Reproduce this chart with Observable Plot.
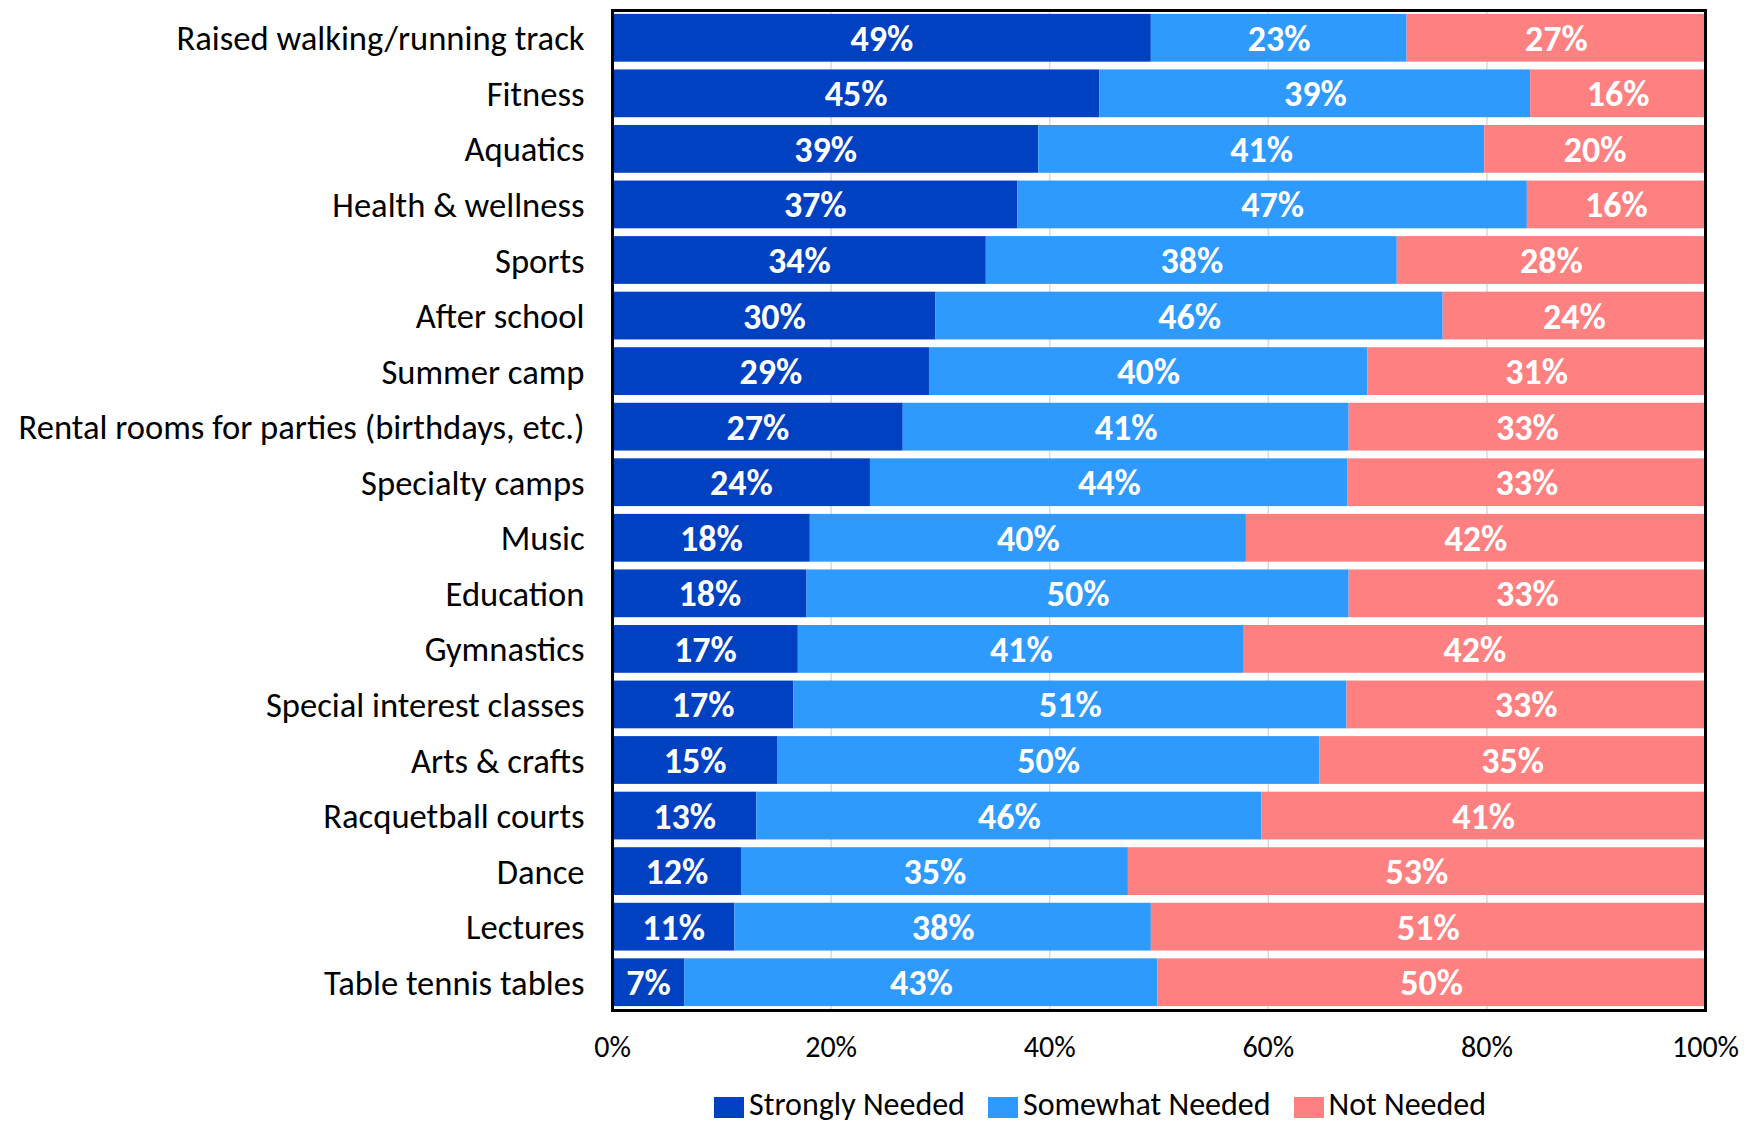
<!DOCTYPE html>
<html>
<head>
<meta charset="utf-8">
<script src="https://cdn.jsdelivr.net/npm/d3@7"></script>
<script src="https://cdn.jsdelivr.net/npm/@observablehq/plot@0.6"></script>
<style>
  html, body { margin: 0; padding: 0; background: #fff; }
  #wrap { position: relative; width: 1760px; height: 1123px; overflow: hidden; font-family: Calibri, Carlito, Lato, sans-serif; }
  #legend { position: absolute; left: 714px; top: 1087px; display: flex; align-items: center; font-size: 32px; line-height: 36px; color: #000; white-space: nowrap; }
  #legend .item { display: flex; align-items: center; margin-right: 23px; }
  #legend .sw { width: 30px; height: 21px; margin-right: 5px; margin-top: 4px; }
</style>
</head>
<body>
<div id="wrap"><div id="chart"></div><div id="legend"></div></div>
<script>
const categories = [
  "Raised walking/running track", "Fitness", "Aquatics", "Health & wellness", "Sports",
  "After school", "Summer camp", "Rental rooms for parties (birthdays, etc.)", "Specialty camps",
  "Music", "Education", "Gymnastics", "Special interest classes", "Arts & crafts",
  "Racquetball courts", "Dance", "Lectures", "Table tennis tables"
];
const series = ["Strongly Needed", "Somewhat Needed", "Not Needed"];
const colors = ["#0041C2", "#2E9AFE", "#FF8080"];
const stronglyNeeded = [49.3, 44.6, 39.0, 37.1, 34.2, 29.6, 29.0, 26.6, 23.6, 18.1, 17.8, 17.0, 16.6, 15.1, 13.2, 11.8, 11.2, 6.6];
const somewhatNeeded = [23.4, 39.4, 40.8, 46.6, 37.6, 46.4, 40.1, 40.8, 43.7, 39.9, 49.6, 40.8, 50.6, 49.6, 46.2, 35.4, 38.1, 43.3];
const notNeeded      = [27.3, 16.0, 20.2, 16.3, 28.2, 24.0, 30.9, 32.6, 32.7, 42.0, 32.6, 42.2, 32.8, 35.3, 40.6, 52.8, 50.7, 50.1];
const xTicks = [0, 20, 40, 60, 80, 100];
const gridTicks = [20, 40, 60, 80];

const valueSets = [stronglyNeeded, somewhatNeeded, notNeeded];
const rows = [];
categories.forEach((cat, i) => {
  let acc = 0;
  valueSets.forEach((vals, s) => {
    const v = vals[i];
    rows.push({cat, series: series[s], x1: acc, x2: acc + v, xm: acc + v / 2, label: Math.round(v) + "%"});
    acc += v;
  });
});

const chart = Plot.plot({
  width: 1760,
  height: 1080,
  marginLeft: 612,
  marginRight: 55,
  marginTop: 10,
  marginBottom: 70,
  style: {fontFamily: "Calibri, Carlito, Lato, sans-serif", background: "#fff", color: "#000"},
  x: {domain: [0, 100], ticks: xTicks, tickFormat: d => d + "%"},
  y: {domain: categories, paddingInner: 0.14, paddingOuter: 0.07, round: false},
  color: {domain: series, range: colors},
  marks: [
    Plot.gridX(gridTicks, {stroke: "#d9d9d9", strokeOpacity: 1, strokeWidth: 1.5}),
    Plot.barX(rows, {y: "cat", x1: "x1", x2: "x2", fill: "series"}),
    Plot.text(rows, {y: "cat", x: "xm", text: "label", fill: "#fff", fontWeight: "bold", fontSize: 36, dy: 1}),
    Plot.frame({stroke: "#000", strokeWidth: 3}),
    Plot.axisY({tickSize: 0, tickPadding: 28, fontSize: 34.6, label: null, dy: 1}),
    Plot.axisX({ticks: xTicks, tickFormat: d => d + "%", tickSize: 0, tickPadding: 25, fontSize: 30, label: null})
  ]
});
document.getElementById("chart").appendChild(chart);

const legend = document.getElementById("legend");
series.forEach((s, i) => {
  const item = document.createElement("div");
  item.className = "item";
  const sw = document.createElement("div");
  sw.className = "sw";
  sw.style.background = colors[i];
  const t = document.createElement("span");
  t.textContent = s;
  item.appendChild(sw);
  item.appendChild(t);
  legend.appendChild(item);
});
</script>
</body>
</html>
